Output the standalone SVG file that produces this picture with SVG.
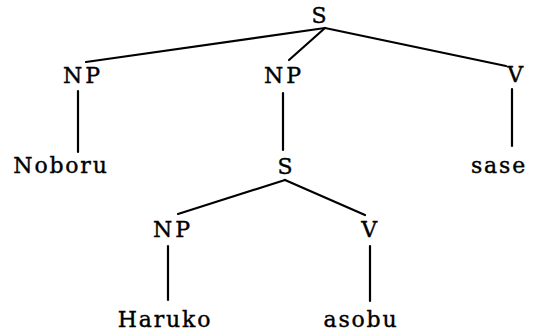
<svg xmlns="http://www.w3.org/2000/svg" width="534" height="333" viewBox="0 0 534 333">
<style>
text{font-family:"DejaVu Serif","Liberation Serif",serif;font-size:22px;fill:#000;stroke:#000;stroke-width:0.4;text-anchor:middle;letter-spacing:1.8px}
.cat{letter-spacing:3px}
.e{stroke:#000;stroke-width:2.2;fill:none;stroke-linecap:round}
</style>
<rect width="534" height="333" fill="#fff"/>
<g id="connectors">
<line class="e" x1="325" y1="28" x2="86" y2="62"/>
<line class="e" x1="325" y1="28" x2="289" y2="60"/>
<line class="e" x1="325" y1="28" x2="506" y2="66"/>
<line class="e" x1="78" y1="91" x2="78" y2="152"/>
<line class="e" x1="283" y1="93" x2="283" y2="150"/>
<line class="e" x1="512" y1="89" x2="512" y2="146"/>
<line class="e" x1="285" y1="180" x2="178" y2="214"/>
<line class="e" x1="285" y1="180" x2="365" y2="215"/>
<line class="e" x1="168" y1="246" x2="168" y2="300"/>
<line class="e" x1="370" y1="246" x2="370" y2="301"/>
</g>
<g id="n_S"><text x="320" y="23">S</text></g>
<g id="n_NP1"><text class="cat" x="83" y="83">NP</text></g>
<g id="n_NP2"><text class="cat" x="284" y="83">NP</text></g>
<g id="n_V1"><text x="516" y="82">V</text></g>
<g id="n_Noboru"><text x="61" y="173">Noboru</text></g>
<g id="n_S2"><text x="286" y="174">S</text></g>
<g id="n_sase"><text x="499" y="173">sase</text></g>
<g id="n_NP3"><text class="cat" x="173" y="237">NP</text></g>
<g id="n_V2"><text x="370" y="237">V</text></g>
<g id="n_Haruko"><text x="165" y="327">Haruko</text></g>
<g id="n_asobu"><text x="361" y="327">asobu</text></g>
</svg>
